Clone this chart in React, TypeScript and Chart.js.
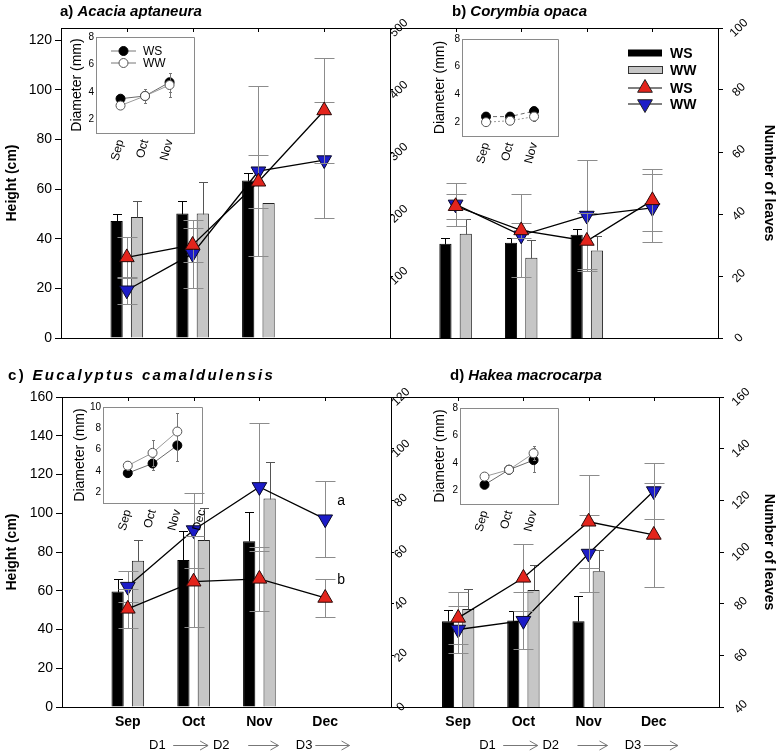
import React, { useEffect, useRef } from 'react';
import { Chart, registerables } from 'chart.js';

Chart.register(...registerables);

const FONT = '"Liberation Sans", Arial, Helvetica, sans-serif';
Chart.defaults.font.family = FONT;
Chart.defaults.color = '#000';

// ---------------- categories & tick labels ----------------
const MONTHS = ['Sep', 'Oct', 'Nov', 'Dec'];
const MAIN_LABELS = ['', ...MONTHS, ''];
const INSET_LABELS = ['', 'Sep', 'Oct', 'Nov', ''];
const INSET_LABELS_C = ['', 'Sep', 'Oct', 'Nov', 'Dec'];
const PHASES = ['D1', 'D2', 'D3'];
const SERIES = ['WS', 'WW'];

const A_HEIGHT_TICKS = [0, 20, 40, 60, 80, 100, 120];
const A_LEAVES_TICKS = [100, 200, 300, 400, 500];
const B_LEAVES_TICKS = [0, 20, 40, 60, 80, 100];
const C_HEIGHT_TICKS = [0, 20, 40, 60, 80, 100, 120, 140, 160];
const C_LEAVES_TICKS = [0, 20, 40, 60, 80, 100, 120];
const D_LEAVES_TICKS = [40, 60, 80, 100, 120, 140, 160];
const INSET_TICKS_8 = [2, 4, 6, 8];
const INSET_TICKS_10 = [2, 4, 6, 8, 10];

// ---------------- panel a: Acacia aptaneura ----------------
const A_BAR_WS = [47.2, 50.2, 63.5];
const A_BAR_WS_ERR = [2.6, 5.1, 3.1];
const A_BAR_WW = [48.8, 50.2, 54.4];
const A_BAR_WW_ERR = [6.5, 12.9, 0];
const A_LEAVES_WS = [130, 150, 252, 367];
const A_LEAVES_WS_ERR = [33, 28, 43, 85];
const A_LEAVES_WW = [77, 136, 269, 287];
const A_LEAVES_WW_ERR = [22, 55, 137, 94];
const A_DIAM_WS = [3.5, 3.7, 4.7];
const A_DIAM_WS_ERR = [0.1, 0.2, 0.7];
const A_DIAM_WW = [3.0, 3.7, 4.5];
const A_DIAM_WW_ERR = [0.1, 0.5, 0.9];

// ---------------- panel b: Corymbia opaca ----------------
const B_BAR_WS = [38.0, 38.4, 41.6];
const B_BAR_WS_ERR = [2.3, 2.0, 2.4];
const B_BAR_WW = [42.0, 32.4, 35.3];
const B_BAR_WW_ERR = [6.1, 7.3, 6.0];
const B_LEAVES_WS = [42.5, 34.7, 31.3, 44.4];
const B_LEAVES_WS_ERR = [4, 2.5, 9, 10];
const B_LEAVES_WW = [43.1, 33.1, 39.5, 42.0];
const B_LEAVES_WW_ERR = [7, 13.5, 18, 11];
const B_DIAM_WS = [2.4, 2.4, 2.8];
const B_DIAM_WS_ERR = [0.1, 0.1, 0.1];
const B_DIAM_WW = [2.0, 2.1, 2.4];
const B_DIAM_WW_ERR = [0.1, 0.1, 0.3];

// ---------------- panel c: Eucalyptus camaldulensis ----------------
const C_BAR_WS = [59.6, 75.9, 85.5];
const C_BAR_WS_ERR = [6.5, 14.7, 14.9];
const C_BAR_WW = [75.5, 86.2, 107.6];
const C_BAR_WW_ERR = [10.7, 16.5, 19.1];
const C_LEAVES_WS = [38.0, 48.5, 49.6, 42.2];
const C_LEAVES_WS_ERR = [7.5, 17.6, 12.3, 7.2];
const C_LEAVES_WW = [46.6, 68.5, 85.2, 72.7];
const C_LEAVES_WW_ERR = [6, 14.5, 24.7, 14.8];
const C_LETTERS = ['b', 'a'];
const C_DIAM_WS = [3.8, 4.7, 6.4];
const C_DIAM_WS_ERR = [0.2, 0.6, 1.5];
const C_DIAM_WW = [4.5, 5.7, 7.7];
const C_DIAM_WW_ERR = [0.4, 1.2, 1.7];

// ---------------- panel d: Hakea macrocarpa ----------------
const D_BAR_WS = [44.3, 44.6, 44.3];
const D_BAR_WS_ERR = [5.6, 5.1, 13.1];
const D_BAR_WW = [50.6, 60.4, 70.1];
const D_BAR_WW_ERR = [10.3, 12.8, 10.8];
const D_LEAVES_WS = [74.5, 90.0, 111.7, 106.6];
const D_LEAVES_WS_ERR = [10, 13, 18, 20];
const D_LEAVES_WW = [70.0, 73.4, 99.4, 123.6];
const D_LEAVES_WW_ERR = [9, 11, 15, 11];
const D_DIAM_WS = [2.4, 3.5, 4.2];
const D_DIAM_WS_ERR = [0.1, 0.2, 0.9];
const D_DIAM_WW = [3.0, 3.5, 4.7];
const D_DIAM_WW_ERR = [0.1, 0.2, 0.5];

// ---------------- helpers ----------------
type Rect = { l: number; t: number; r: number; b: number };

function onMonths(vals: number[], n: number) {
  const out: (number | null)[] = new Array(n).fill(null);
  vals.forEach((v, i) => { out[i + 1] = v; });
  return out;
}

function drawErrors(chart: any, index: number, barPhase: boolean) {
  const ds: any = chart.data.datasets[index];
  const meta = chart.getDatasetMeta(index);
  if (!ds.err || (meta.type === 'bar') !== barPhase) return;
  const scale = chart.scales[meta.yAxisID];
  const ctx = chart.ctx;
  ctx.save();
  ctx.strokeStyle = ds.errColor || '#888';
  ctx.lineWidth = 1;
  const cap = ds.errCap || 8;
  meta.data.forEach((el: any, i: number) => {
    const v = ds.data[i];
    const e = ds.err[i];
    if (v == null || e == null || !e) return;
    const x = Math.round(el.x) + 0.5;
    const yHi = Math.round(scale.getPixelForValue(v + e)) + 0.5;
    const yLo = Math.round(scale.getPixelForValue(ds.errUp ? v : v - e)) + 0.5;
    ctx.beginPath();
    ctx.moveTo(x, yLo);
    ctx.lineTo(x, yHi);
    ctx.moveTo(x - cap / 2, yHi);
    ctx.lineTo(x + cap / 2, yHi);
    if (!ds.errUp) {
      ctx.moveTo(x - cap / 2, yLo);
      ctx.lineTo(x + cap / 2, yLo);
    }
    ctx.stroke();
  });
  ctx.restore();
}

const errorBars = {
  id: 'errorBars',
  beforeDatasetDraw(chart: any, args: any) { drawErrors(chart, args.index, false); },
  afterDatasetDraw(chart: any, args: any) { drawErrors(chart, args.index, true); },
};

function triangle(ctx: any, cx: number, cy: number, r: number, down: boolean, fill: string) {
  const s = down ? -1 : 1;
  ctx.beginPath();
  ctx.moveTo(cx, cy - s * r);
  ctx.lineTo(cx + r * 0.866, cy + s * r * 0.5);
  ctx.lineTo(cx - r * 0.866, cy + s * r * 0.5);
  ctx.closePath();
  ctx.fillStyle = fill;
  ctx.fill();
  ctx.strokeStyle = '#222';
  ctx.lineWidth = 1;
  ctx.stroke();
}

const RED = '#e3241c';
const BLUE = '#1c1cc8';
const GREY_BAR = '#c6c6c6';

// ---------------- main panel ----------------
interface MainSpec {
  canvas: Rect;
  area: Rect;
  heightAxis: boolean;
  heightMax: number;
  heightTicks: number[];
  leavesMin: number;
  leavesMax: number;
  leavesTicks: number[];
  leavesTick: number;
  leavesPad: number;
  leavesTitle: boolean;
  months: boolean;
  phases: boolean;
  legend: boolean;
  barWS: number[]; barWSErr: number[]; barWW: number[]; barWWErr: number[];
  lineWS: number[]; lineWSErr: number[]; lineWW: number[]; lineWWErr: number[];
  letters: string[] | null;
}

function mainDecor(s: MainSpec) {
  return {
    id: 'mainDecor',
    afterDatasetsDraw(chart: any) {
      const { ctx, chartArea: a } = chart;
      const xs = chart.scales.x;
      ctx.save();
      ctx.strokeStyle = '#000';
      ctx.lineWidth = 1;
      ctx.beginPath();
      ctx.moveTo(a.left, Math.round(a.top) + 0.5);
      ctx.lineTo(a.right, Math.round(a.top) + 0.5);
      MONTHS.forEach((_, i) => {
        const px = Math.round(xs.getPixelForValue(i + 1)) + 0.5;
        ctx.moveTo(px, a.top);
        ctx.lineTo(px, a.top + 4);
      });
      ctx.stroke();

      if (s.legend) {
        const ds = chart.data.datasets;
        const x0 = a.right - 90;
        const x1 = a.right - 56;
        const tx = a.right - 48;
        const rows = [a.top + 25, a.top + 42, a.top + 60, a.top + 76];
        ctx.fillStyle = '#000';
        ctx.fillRect(x0, rows[0] - 3.5, x1 - x0, 7);
        ctx.fillStyle = GREY_BAR;
        ctx.fillRect(x0 + 0.5, rows[1] - 3.5, x1 - x0, 7);
        ctx.strokeStyle = '#333';
        ctx.strokeRect(x0 + 0.5, rows[1] - 3.5, x1 - x0, 7);
        [2, 3].forEach((k) => {
          const y = rows[k];
          ctx.strokeStyle = '#000';
          ctx.beginPath();
          ctx.moveTo(x0, y);
          ctx.lineTo(x1, y);
          ctx.stroke();
          triangle(ctx, (x0 + x1) / 2, y, 8.5, k === 3, k === 2 ? RED : BLUE);
        });
        ctx.fillStyle = '#000';
        ctx.font = `bold 14px ${FONT}`;
        ctx.textAlign = 'left';
        ctx.textBaseline = 'middle';
        rows.forEach((y, k) => ctx.fillText(ds[k].label, tx, y + 1));
      }

      if (s.phases) {
        const y = a.bottom + 38;
        const textPos = [1.45, 2.42, 3.68];
        const arrows = [[1.69, 2.22], [2.83, 3.29], [3.85, 4.37]];
        ctx.fillStyle = '#000';
        ctx.font = `13px ${FONT}`;
        ctx.textAlign = 'center';
        ctx.textBaseline = 'middle';
        PHASES.forEach((p, i) => ctx.fillText(p, xs.getPixelForValue(textPos[i]), y));
        ctx.strokeStyle = '#777';
        ctx.lineWidth = 1;
        arrows.forEach(([u, v]) => {
          const p0 = xs.getPixelForValue(u);
          const p1 = xs.getPixelForValue(v);
          ctx.beginPath();
          ctx.moveTo(p0, y + 0.5);
          ctx.lineTo(p1, y + 0.5);
          ctx.moveTo(p1 - 8, y - 4);
          ctx.lineTo(p1, y + 0.5);
          ctx.lineTo(p1 - 8, y + 5);
          ctx.stroke();
        });
      }

      if (s.letters) {
        ctx.fillStyle = '#000';
        ctx.font = `14px ${FONT}`;
        ctx.textAlign = 'left';
        ctx.textBaseline = 'middle';
        s.letters.forEach((txt, k) => {
          const meta = chart.getDatasetMeta(2 + k);
          const el = meta.data[MONTHS.length];
          if (el) ctx.fillText(txt, el.x + 12, el.y - 18);
        });
      }
      ctx.restore();
    },
  };
}

function mainConfig(s: MainSpec) {
  const leftW = s.heightAxis ? s.area.l - s.canvas.l : 0;
  const padLeft = s.heightAxis ? 0 : s.area.l - s.canvas.l;
  const rightW = s.canvas.r - s.area.r;
  const padTop = s.area.t - s.canvas.t;
  const bottomH = s.canvas.b - s.area.b;
  const n = MAIN_LABELS.length;
  return {
    type: 'bar',
    data: {
      labels: MAIN_LABELS,
      datasets: [
        {
          type: 'bar', label: SERIES[0], data: onMonths(s.barWS, n), err: onMonths(s.barWSErr, n),
          errUp: true, errColor: '#000', errCap: 9,
          backgroundColor: '#000', borderColor: '#000', borderWidth: 1, yAxisID: 'y', order: 3,
          categoryPercentage: 0.62, barPercentage: 0.6,
        },
        {
          type: 'bar', label: SERIES[1], data: onMonths(s.barWW, n), err: onMonths(s.barWWErr, n),
          errUp: true, errColor: '#555', errCap: 9,
          backgroundColor: GREY_BAR, borderColor: '#222', borderWidth: 1, yAxisID: 'y', order: 4,
          categoryPercentage: 0.62, barPercentage: 0.6,
        },
        {
          type: 'line', label: SERIES[0], data: onMonths(s.lineWS, n), err: onMonths(s.lineWSErr, n),
          errColor: '#8c8c8c', errCap: 20, yAxisID: 'y2', order: 1,
          borderColor: '#000', borderWidth: 1.3, pointStyle: 'triangle', pointRadius: 8.5,
          pointBackgroundColor: RED, pointBorderColor: '#2a0a0a', pointBorderWidth: 1, fill: false, spanGaps: false,
        },
        {
          type: 'line', label: SERIES[1], data: onMonths(s.lineWW, n), err: onMonths(s.lineWWErr, n),
          errColor: '#8c8c8c', errCap: 20, yAxisID: 'y2', order: 2,
          borderColor: '#000', borderWidth: 1.3, pointStyle: 'triangle', pointRotation: 180, pointRadius: 8.5,
          pointBackgroundColor: BLUE, pointBorderColor: '#0a0a2a', pointBorderWidth: 1, fill: false, spanGaps: false,
        },
      ],
    },
    options: {
      responsive: false,
      animation: false,
      events: [],
      layout: { padding: { left: padLeft, top: padTop, right: 0, bottom: 0 } },
      plugins: { legend: { display: false }, tooltip: { enabled: false }, title: { display: false } },
      scales: {
        x: {
          type: 'category',
          offset: false,
          grid: { display: false, drawTicks: false },
          border: { display: true, color: '#000', width: 1 },
          ticks: {
            display: s.months, autoSkip: false, maxRotation: 0, minRotation: 0, padding: 7,
            font: { size: 14, weight: 'bold' }, color: '#000',
          },
          afterFit: (sc: any) => { sc.height = bottomH; },
        },
        y: {
          display: s.heightAxis,
          position: 'left',
          min: 0,
          max: s.heightMax,
          afterBuildTicks: (sc: any) => { sc.ticks = s.heightTicks.map((v) => ({ value: v })); },
          grid: { drawOnChartArea: false, drawTicks: true, tickLength: 6, color: '#000' },
          border: { display: true, color: '#000', width: 1 },
          ticks: { font: { size: 14 }, color: '#000', padding: 3 },
          title: {
            display: true, text: 'Height (cm)', color: '#000',
            font: { size: 14, weight: 'bold' }, padding: { top: 4, bottom: 0 },
          },
          afterFit: (sc: any) => { sc.width = leftW; },
        },
        y2: {
          position: 'right',
          min: s.leavesMin,
          max: s.leavesMax,
          afterBuildTicks: (sc: any) => { sc.ticks = s.leavesTicks.map((v) => ({ value: v })); },
          grid: { drawOnChartArea: false, drawTicks: true, tickLength: s.leavesTick, color: '#000' },
          border: { display: true, color: '#000', width: 1 },
          ticks: {
            font: { size: 12 }, color: '#000', padding: s.leavesPad, minRotation: 45, maxRotation: 45,
            crossAlign: 'center',
          },
          title: {
            display: s.leavesTitle, text: 'Number of leaves', color: '#000',
            font: { size: 14, weight: 'bold' }, padding: { top: 0, bottom: 0 },
          },
          afterFit: (sc: any) => { sc.width = rightW; },
        },
      },
    },
    plugins: [errorBars, mainDecor(s)],
  };
}

// ---------------- inset (stem diameter) ----------------
interface InsetSpec {
  box: Rect;
  leftW: number;
  labels: string[];
  yMax: number;
  ticks: number[];
  ws: number[]; wsErr: number[]; ww: number[]; wwErr: number[];
  dashed: boolean;
  legend: boolean;
}

function insetCanvas(s: InsetSpec): Rect {
  return { l: s.box.l - s.leftW, t: s.box.t - 8, r: s.box.r + 14, b: s.box.b + 44 };
}

function insetDecor(s: InsetSpec) {
  return {
    id: 'insetDecor',
    afterDatasetsDraw(chart: any) {
      const { ctx, chartArea: a } = chart;
      ctx.save();
      ctx.strokeStyle = '#8a8a8a';
      ctx.lineWidth = 1;
      ctx.beginPath();
      ctx.moveTo(a.left, Math.round(a.top) + 0.5);
      ctx.lineTo(Math.round(a.right) + 0.5, Math.round(a.top) + 0.5);
      ctx.lineTo(Math.round(a.right) + 0.5, a.bottom);
      ctx.stroke();
      if (s.legend) {
        const ds = chart.data.datasets;
        const rows = [a.top + 14, a.top + 26];
        const x0 = a.left + 15;
        const x1 = a.left + 40;
        rows.forEach((y, k) => {
          ctx.strokeStyle = '#777';
          ctx.beginPath();
          ctx.moveTo(x0, y);
          ctx.lineTo(x1, y);
          ctx.stroke();
          ctx.beginPath();
          ctx.arc((x0 + x1) / 2, y, 4.5, 0, Math.PI * 2);
          ctx.fillStyle = k === 0 ? '#000' : '#fff';
          ctx.fill();
          ctx.strokeStyle = k === 0 ? '#000' : '#555';
          ctx.stroke();
          ctx.fillStyle = '#000';
          ctx.font = `12px ${FONT}`;
          ctx.textAlign = 'left';
          ctx.textBaseline = 'middle';
          ctx.fillText(ds[k].label, x1 + 7, y + 1);
        });
      }
      ctx.restore();
    },
  };
}

function insetConfig(s: InsetSpec) {
  const c = insetCanvas(s);
  const n = s.labels.length;
  return {
    type: 'line',
    data: {
      labels: s.labels,
      datasets: [
        {
          label: SERIES[0], data: onMonths(s.ws, n), err: onMonths(s.wsErr, n), errColor: '#777', errCap: 3,
          borderColor: '#6a6a6a', borderWidth: 1, borderDash: s.dashed ? [4, 3] : [],
          pointRadius: 4.5, pointBackgroundColor: '#000', pointBorderColor: '#000', pointBorderWidth: 1, order: 2,
        },
        {
          label: SERIES[1], data: onMonths(s.ww, n), err: onMonths(s.wwErr, n), errColor: '#777', errCap: 3,
          borderColor: '#9a9a9a', borderWidth: 1, borderDash: s.dashed ? [2, 2] : [],
          pointRadius: 4.5, pointBackgroundColor: '#fff', pointBorderColor: '#555', pointBorderWidth: 1, order: 1,
        },
      ],
    },
    options: {
      responsive: false,
      animation: false,
      events: [],
      layout: { padding: { left: 0, top: s.box.t - c.t, right: c.r - s.box.r, bottom: 0 } },
      plugins: { legend: { display: false }, tooltip: { enabled: false } },
      scales: {
        x: {
          offset: false,
          grid: { display: false, drawTicks: false },
          border: { display: true, color: '#8a8a8a', width: 1 },
          ticks: { autoSkip: false, minRotation: 75, maxRotation: 75, padding: 5, font: { size: 12 }, color: '#000' },
          afterFit: (sc: any) => { sc.height = c.b - s.box.b; },
        },
        y: {
          min: 1,
          max: s.yMax,
          afterBuildTicks: (sc: any) => { sc.ticks = s.ticks.map((v) => ({ value: v })); },
          grid: { display: false, drawTicks: false },
          border: { display: true, color: '#8a8a8a', width: 1 },
          ticks: { font: { size: 10 }, color: '#000', padding: 2 },
          title: { display: true, text: 'Diameter (mm)', font: { size: 14 }, color: '#000', padding: { top: 2, bottom: 0 } },
          afterFit: (sc: any) => { sc.width = s.leftW; },
        },
      },
    },
    plugins: [errorBars, insetDecor(s)],
  };
}

// ---------------- specs ----------------
const PANEL_A: MainSpec = {
  canvas: { l: 0, t: 0, r: 432, b: 358 }, area: { l: 61, t: 28, r: 390, b: 338 },
  heightAxis: true, heightMax: 125, heightTicks: A_HEIGHT_TICKS,
  leavesMin: 0, leavesMax: 500, leavesTicks: A_LEAVES_TICKS, leavesTick: 3, leavesPad: -4, leavesTitle: false,
  months: false, phases: false, legend: false,
  barWS: A_BAR_WS, barWSErr: A_BAR_WS_ERR, barWW: A_BAR_WW, barWWErr: A_BAR_WW_ERR,
  lineWS: A_LEAVES_WS, lineWSErr: A_LEAVES_WS_ERR, lineWW: A_LEAVES_WW, lineWWErr: A_LEAVES_WW_ERR,
  letters: null,
};
const PANEL_B: MainSpec = {
  canvas: { l: 380, t: 0, r: 777, b: 358 }, area: { l: 390, t: 28, r: 718, b: 338 },
  heightAxis: false, heightMax: 125, heightTicks: A_HEIGHT_TICKS,
  leavesMin: 0, leavesMax: 100, leavesTicks: B_LEAVES_TICKS, leavesTick: 5, leavesPad: 6, leavesTitle: true,
  months: false, phases: false, legend: true,
  barWS: B_BAR_WS, barWSErr: B_BAR_WS_ERR, barWW: B_BAR_WW, barWWErr: B_BAR_WW_ERR,
  lineWS: B_LEAVES_WS, lineWSErr: B_LEAVES_WS_ERR, lineWW: B_LEAVES_WW, lineWWErr: B_LEAVES_WW_ERR,
  letters: null,
};
const PANEL_C: MainSpec = {
  canvas: { l: 0, t: 360, r: 432, b: 753 }, area: { l: 62, t: 397, r: 391, b: 707 },
  heightAxis: true, heightMax: 160, heightTicks: C_HEIGHT_TICKS,
  leavesMin: 0, leavesMax: 120, leavesTicks: C_LEAVES_TICKS, leavesTick: 3, leavesPad: -3, leavesTitle: false,
  months: true, phases: true, legend: false,
  barWS: C_BAR_WS, barWSErr: C_BAR_WS_ERR, barWW: C_BAR_WW, barWWErr: C_BAR_WW_ERR,
  lineWS: C_LEAVES_WS, lineWSErr: C_LEAVES_WS_ERR, lineWW: C_LEAVES_WW, lineWWErr: C_LEAVES_WW_ERR,
  letters: C_LETTERS,
};
const PANEL_D: MainSpec = {
  canvas: { l: 380, t: 360, r: 777, b: 753 }, area: { l: 393, t: 397, r: 719, b: 707 },
  heightAxis: false, heightMax: 160, heightTicks: C_HEIGHT_TICKS,
  leavesMin: 40, leavesMax: 160, leavesTicks: D_LEAVES_TICKS, leavesTick: 5, leavesPad: 7, leavesTitle: true,
  months: true, phases: true, legend: false,
  barWS: D_BAR_WS, barWSErr: D_BAR_WS_ERR, barWW: D_BAR_WW, barWWErr: D_BAR_WW_ERR,
  lineWS: D_LEAVES_WS, lineWSErr: D_LEAVES_WS_ERR, lineWW: D_LEAVES_WW, lineWWErr: D_LEAVES_WW_ERR,
  letters: null,
};

const INSET_A: InsetSpec = {
  box: { l: 96, t: 37, r: 199, b: 133 }, leftW: 29, labels: INSET_LABELS, yMax: 8, ticks: INSET_TICKS_8,
  ws: A_DIAM_WS, wsErr: A_DIAM_WS_ERR, ww: A_DIAM_WW, wwErr: A_DIAM_WW_ERR, dashed: false, legend: true,
};
const INSET_B: InsetSpec = {
  box: { l: 462, t: 39, r: 563, b: 136 }, leftW: 32, labels: INSET_LABELS, yMax: 8, ticks: INSET_TICKS_8,
  ws: B_DIAM_WS, wsErr: B_DIAM_WS_ERR, ww: B_DIAM_WW, wwErr: B_DIAM_WW_ERR, dashed: true, legend: false,
};
const INSET_C: InsetSpec = {
  box: { l: 103, t: 407, r: 207, b: 503 }, leftW: 33, labels: INSET_LABELS_C, yMax: 10, ticks: INSET_TICKS_10,
  ws: C_DIAM_WS, wsErr: C_DIAM_WS_ERR, ww: C_DIAM_WW, wwErr: C_DIAM_WW_ERR, dashed: false, legend: false,
};
const INSET_D: InsetSpec = {
  box: { l: 460, t: 408, r: 563, b: 504 }, leftW: 30, labels: INSET_LABELS, yMax: 8, ticks: INSET_TICKS_8,
  ws: D_DIAM_WS, wsErr: D_DIAM_WS_ERR, ww: D_DIAM_WW, wwErr: D_DIAM_WW_ERR, dashed: false, legend: false,
};

const TITLES = [
  { l: 60, t: 2, tag: 'a)', species: 'Acacia aptaneura', spacing: 0 },
  { l: 452, t: 2, tag: 'b)', species: 'Corymbia opaca', spacing: 0 },
  { l: 8, t: 366, tag: 'c)', species: 'Eucalyptus camaldulensis', spacing: 2.3 },
  { l: 450, t: 366, tag: 'd)', species: 'Hakea macrocarpa', spacing: 0 },
];

// ---------------- components ----------------
function ChartBox({ rect, make }: { rect: Rect; make: () => any }) {
  const ref = useRef<HTMLCanvasElement>(null);
  useEffect(() => {
    const chart = new Chart(ref.current as HTMLCanvasElement, make());
    return () => chart.destroy();
  }, []);
  const w = rect.r - rect.l;
  const h = rect.b - rect.t;
  return (
    <canvas
      ref={ref}
      width={w}
      height={h}
      style={{ position: 'absolute', left: rect.l, top: rect.t, width: w, height: h }}
    />
  );
}

export default function App() {
  const panels = [PANEL_A, PANEL_C, PANEL_B, PANEL_D];
  const insets = [INSET_A, INSET_B, INSET_C, INSET_D];
  return (
    <div style={{ position: 'absolute', left: 0, top: 0, width: 777, height: 753, background: '#fff', overflow: 'hidden' }}>
      {panels.map((p, i) => (
        <ChartBox key={'p' + i} rect={p.canvas} make={() => mainConfig(p)} />
      ))}
      {insets.map((s, i) => (
        <ChartBox key={'i' + i} rect={insetCanvas(s)} make={() => insetConfig(s)} />
      ))}
      {TITLES.map((t, i) => (
        <div
          key={'t' + i}
          style={{
            position: 'absolute', left: t.l, top: t.t, whiteSpace: 'nowrap',
            font: `bold 15px ${FONT}`, lineHeight: '17px', color: '#000', letterSpacing: t.spacing,
          }}
        >
          {t.tag} <i>{t.species}</i>
        </div>
      ))}
    </div>
  );
}
